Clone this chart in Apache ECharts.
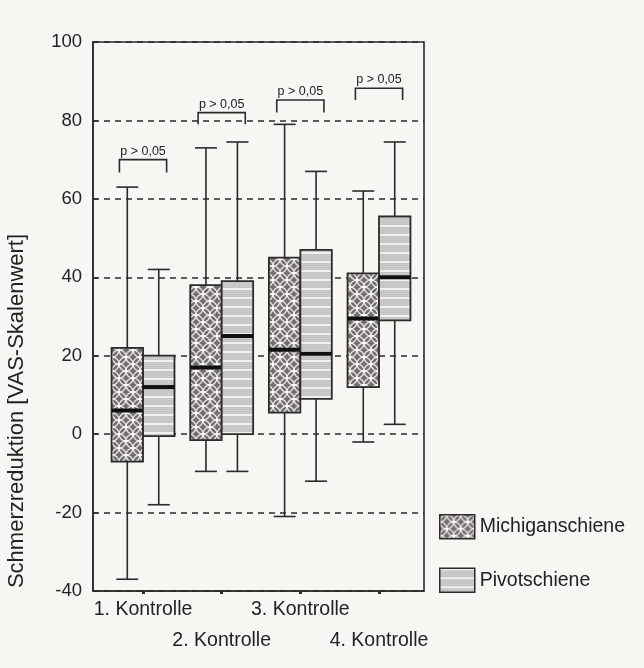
<!DOCTYPE html>
<html>
<head>
<meta charset="utf-8">
<script src="https://cdn.jsdelivr.net/npm/echarts@6/dist/echarts.min.js"></script>
<style>
html,body{margin:0;padding:0;background:#f7f6f3;}
#chart{width:644px;height:668px;}
</style>
</head>
<body>
<div id="chart"></div>
<script>
// ---- data ----
var categories = ['1. Kontrolle', '2. Kontrolle', '3. Kontrolle', '4. Kontrolle'];
var seriesNames = ['Michiganschiene', 'Pivotschiene'];
// [min, Q1, median, Q3, max]
var michigan = [
  [-37, -7, 6, 22, 63],
  [-9.5, -1.5, 17, 38, 73],
  [-21, 5.5, 21.5, 45, 79],
  [-2, 12, 29.5, 41, 62]
];
var pivot = [
  [-18, -0.5, 12, 20, 42],
  [-9.5, 0, 25, 39, 74.5],
  [-12, 9, 20.5, 47, 67],
  [2.5, 29, 40, 55.5, 74.5]
];
var pLabel = 'p > 0,05';
var bracketTop = [70, 82, 85.2, 88.2];
var bracketLeg = [66.7, 79, 82, 85.2];
var yTicks = [-40, -20, 0, 20, 40, 60, 80, 100];
var yTitle = 'Schmerzreduktion [VAS-Skalenwert]';
var catPositions = [1, 2, 3, 4];

// ---- patterns ----
function makeMichiganPattern() {
  var c = document.createElement('canvas');
  var s = 14;
  c.width = s; c.height = s;
  var g = c.getContext('2d');
  g.fillStyle = '#736d70';
  g.fillRect(0, 0, s, s);
  g.strokeStyle = 'rgba(255,255,255,0.8)';
  g.lineWidth = 1.3;
  var centers = [[0,0],[s,0],[0,s],[s,s],[s/2,s/2]];
  centers.forEach(function(p){
    g.beginPath();
    g.arc(p[0], p[1], s/2, 0, Math.PI*2);
    g.stroke();
  });
  g.fillStyle = '#ffffff';
  [[s/2,0],[0,s/2],[s,s/2],[s/2,s]].forEach(function(p){
    g.beginPath(); g.arc(p[0], p[1], 1.6, 0, Math.PI*2); g.fill();
  });
  return c;
}
function makePivotPattern() {
  var c = document.createElement('canvas');
  var w = 4, h = 9;
  c.width = w; c.height = h;
  var g = c.getContext('2d');
  g.fillStyle = '#c4c4c4';
  g.fillRect(0, 0, w, h);
  g.fillStyle = '#d2d2d2';
  for (var y = 3; y < h; y += 2) { for (var x = 0; x < w; x += 2) g.fillRect(x, y, 1, 1); }
  g.fillStyle = '#f0f0f0';
  g.fillRect(0, 0, w, 2);
  return c;
}
var patMich = {image: makeMichiganPattern(), repeat: 'repeat'};
var patPiv = {image: makePivotPattern(), repeat: 'repeat'};

var FONT = 'Liberation Sans, Arial, Helvetica, sans-serif';
var INK = '#2b2b2b';

function boxRenderer(offset, fill) {
  return function (params, api) {
    var x = api.value(0) + 1 + offset;
    var lo = api.coord([x, api.value(1)]);
    var q1 = api.coord([x, api.value(2)]);
    var md = api.coord([x, api.value(3)]);
    var q3 = api.coord([x, api.value(4)]);
    var hi = api.coord([x, api.value(5)]);
    var halfW = api.size([0.2, 0])[0];
    var cap = 11;
    var px = lo[0];
    var ls = {stroke: INK, lineWidth: 1.6};
    return {
      type: 'group',
      children: [
        {type: 'line', shape: {x1: px, y1: q3[1], x2: px, y2: hi[1]}, style: ls},
        {type: 'line', shape: {x1: px, y1: q1[1], x2: px, y2: lo[1]}, style: ls},
        {type: 'line', shape: {x1: px - cap, y1: hi[1], x2: px + cap, y2: hi[1]}, style: ls},
        {type: 'line', shape: {x1: px - cap, y1: lo[1], x2: px + cap, y2: lo[1]}, style: ls},
        {type: 'rect', shape: {x: px - halfW, y: q3[1], width: 2 * halfW, height: q1[1] - q3[1]},
          style: {fill: fill, stroke: INK, lineWidth: 1.8}},
        {type: 'line', shape: {x1: px - halfW, y1: md[1], x2: px + halfW, y2: md[1]},
          style: {stroke: '#111', lineWidth: 4}}
      ]
    };
  };
}

function bracketRenderer(params, api) {
  var x = api.value(0) + 1;
  var a = api.coord([x - 0.3, api.value(1)]);
  var b = api.coord([x + 0.3, api.value(1)]);
  var la = api.coord([x - 0.3, api.value(2)]);
  var lb = api.coord([x + 0.3, api.value(2)]);
  return {
    type: 'group',
    children: [
      {type: 'polyline', shape: {points: [[la[0], la[1]], [a[0], a[1]], [b[0], b[1]], [lb[0], lb[1]]]},
        style: {stroke: INK, lineWidth: 1.6, fill: null}},
      {type: 'text', x: (a[0] + b[0]) / 2, y: a[1] - 2,
        style: {text: pLabel, font: '12.5px ' + FONT, fill: '#222', textAlign: 'center', textVerticalAlign: 'bottom'}}
    ]
  };
}

var michData = michigan.map(function(r, i){ return [i].concat(r); });
var pivData = pivot.map(function(r, i){ return [i].concat(r); });
var brData = bracketTop.map(function(t, i){ return [i, t, bracketLeg[i]]; });

function catLabel(v) { return categories[Math.round(v) - 1]; }
var xLabelStyle = {fontSize: 19.5, lineHeight: 31, color: '#222', fontFamily: FONT,
  showMinLabel: true, showMaxLabel: true, hideOverlap: false, formatter: catLabel};

var chart = echarts.init(document.getElementById('chart'), null, {renderer: 'canvas'});
chart.setOption({
  backgroundColor: '#f7f6f3',
  animation: false,
  textStyle: {fontFamily: FONT},
  grid: {left: 93, top: 42, right: 220, bottom: 77, show: true, borderColor: INK, borderWidth: 1.6, backgroundColor: 'transparent'},
  xAxis: [
    {
      type: 'value', min: 0.364, max: 4.572, position: 'bottom',
      axisLine: {show: true, onZero: false, lineStyle: {color: INK, width: 1.6}},
      axisTick: {show: true, customValues: catPositions, length: 3, inside: false, lineStyle: {color: INK, width: 3}},
      axisLabel: Object.assign({customValues: catPositions.filter(function(p, i){ return i % 2 === 0; }), margin: 3}, xLabelStyle),
      splitLine: {show: false}
    },
    {
      type: 'value', min: 0.364, max: 4.572, position: 'bottom', offset: 0,
      axisLine: {show: false, onZero: false},
      axisTick: {show: false},
      axisLabel: Object.assign({customValues: catPositions.filter(function(p, i){ return i % 2 === 1; }), margin: 34.5}, xLabelStyle),
      splitLine: {show: false}
    }
  ],
  yAxis: {
    type: 'value', min: -40, max: 100, interval: 20,
    axisLine: {show: true, onZero: false, lineStyle: {color: INK, width: 1.6}},
    axisTick: {show: true, inside: true, length: 5, lineStyle: {color: INK, width: 1.5}},
    axisLabel: {fontSize: 18.5, color: '#222', margin: 11, fontFamily: FONT,
      formatter: function (v) { return yTicks.indexOf(v) >= 0 ? String(v) : ''; }},
    splitLine: {show: true, lineStyle: {color: INK, width: 1.5, type: [6, 5]}}
  },
  legend: {
    orient: 'vertical', left: 439, top: 514, padding: 0,
    itemWidth: 35, itemHeight: 24, itemGap: 28,
    icon: 'rect',
    textStyle: {fontSize: 19.5, color: '#222', fontFamily: FONT},
    data: [
      {name: seriesNames[0], itemStyle: {color: patMich, borderColor: INK, borderWidth: 1.5}},
      {name: seriesNames[1], itemStyle: {color: patPiv, borderColor: INK, borderWidth: 1.5}}
    ]
  },
  graphic: [
    {type: 'text', x: 17, y: 411, rotation: Math.PI / 2,
      style: {text: yTitle, font: '22px ' + FONT, fill: '#222', textAlign: 'center', textVerticalAlign: 'middle'}}
  ],
  series: [
    {name: seriesNames[0], type: 'custom', renderItem: boxRenderer(-0.2, patMich), data: michData,
      encode: {x: 0, y: [1, 2, 3, 4, 5]}, itemStyle: {color: patMich, borderColor: INK}, z: 3},
    {name: seriesNames[1], type: 'custom', renderItem: boxRenderer(0.2, patPiv), data: pivData,
      encode: {x: 0, y: [1, 2, 3, 4, 5]}, itemStyle: {color: patPiv, borderColor: INK}, z: 3},
    {name: 'p', type: 'custom', renderItem: bracketRenderer, data: brData,
      encode: {x: 0, y: [1, 2]}, z: 4}
  ]
});
</script>
</body>
</html>
